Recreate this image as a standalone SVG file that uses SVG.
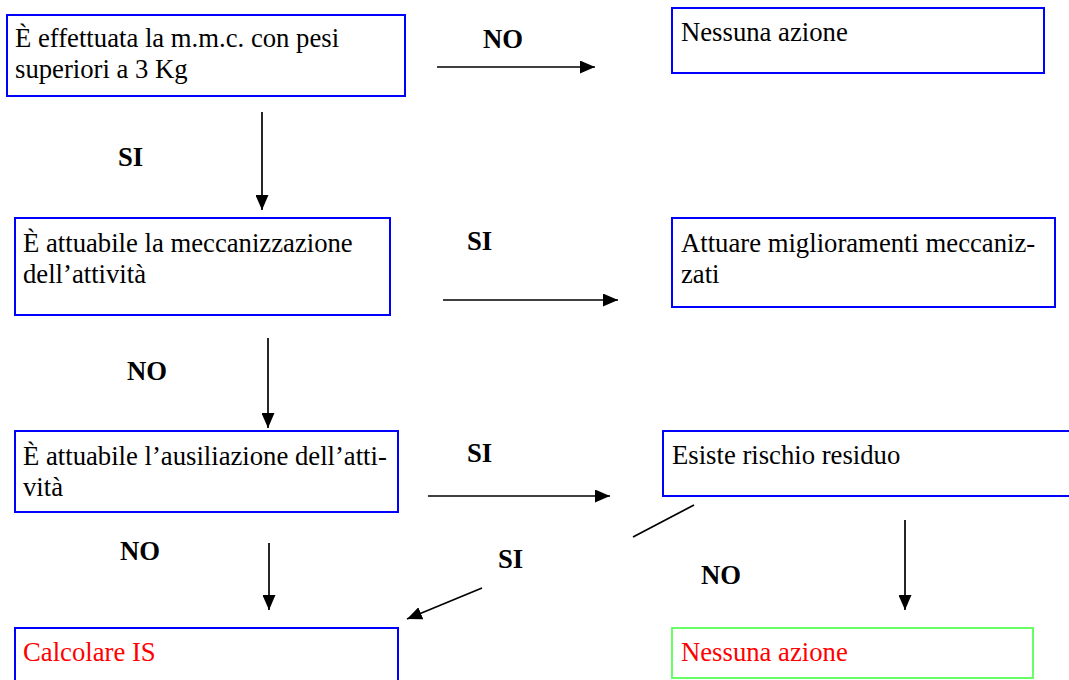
<svg xmlns="http://www.w3.org/2000/svg" width="1069" height="680" viewBox="0 0 1069 680">
<defs>
<marker id="ah" viewBox="0 0 15 13" refX="15" refY="6.5" markerWidth="15" markerHeight="13" markerUnits="userSpaceOnUse" orient="auto">
<path d="M0,0 L15,6.5 L0,13 Z" fill="#000"/>
</marker>
<style>
.box{fill:#fff;stroke:#0000ff;stroke-width:2}
.gbox{fill:#fff;stroke:#66ff66;stroke-width:2}
.t{font-family:"Liberation Serif","Times New Roman",serif;font-size:26.7px;fill:#000}
.r{fill:#ff0000}
.lbl{font-family:"Liberation Serif","Times New Roman",serif;font-size:26.7px;font-weight:bold;fill:#000}
.c{stroke:#000;stroke-width:1.7;fill:none}
.ca{stroke:#000;stroke-width:1.7;fill:none;marker-end:url(#ah)}
</style>
</defs>
<rect width="1069" height="680" fill="#fff"/>
<g id="connectors">
<line class="ca" x1="437" y1="67" x2="595" y2="67"/>
<line class="ca" x1="262" y1="112" x2="262" y2="210"/>
<line class="ca" x1="443" y1="300" x2="618" y2="300"/>
<line class="ca" x1="268" y1="338" x2="268" y2="428"/>
<line class="ca" x1="428" y1="496" x2="610" y2="496"/>
<line class="c" x1="694" y1="505" x2="633" y2="537"/>
<line class="ca" x1="482" y1="588" x2="407" y2="619"/>
<line class="ca" x1="269" y1="543" x2="269" y2="610"/>
<line class="ca" x1="905" y1="520" x2="905" y2="610"/>
</g>
<g id="labels">
<text class="lbl" x="483" y="48">NO</text>
<text class="lbl" x="118" y="166">SI</text>
<text class="lbl" x="467" y="250">SI</text>
<text class="lbl" x="127" y="380">NO</text>
<text class="lbl" x="467" y="462">SI</text>
<text class="lbl" x="120" y="560">NO</text>
<text class="lbl" x="498" y="568">SI</text>
<text class="lbl" x="701" y="584">NO</text>
</g>
<g id="n1">
<rect class="box" x="7" y="15" width="398" height="81"/>
<text class="t" x="15" y="47">È effettuata la m.m.c. con pesi</text>
<text class="t" x="15" y="78">superiori a 3 Kg</text>
</g>
<g id="n2">
<rect class="box" x="672" y="8" width="372" height="65"/>
<text class="t" x="681" y="41">Nessuna azione</text>
</g>
<g id="n3">
<rect class="box" x="15" y="218" width="375" height="97"/>
<text class="t" x="23" y="252">È attuabile la meccanizzazione</text>
<text class="t" x="23" y="283">dell’attività</text>
</g>
<g id="n4">
<rect class="box" x="672" y="218" width="383" height="89"/>
<text class="t" x="681" y="252">Attuare miglioramenti meccaniz-</text>
<text class="t" x="681" y="283">zati</text>
</g>
<g id="n5">
<rect class="box" x="15" y="431" width="383" height="81"/>
<text class="t" x="23" y="465">È attuabile l’ausiliazione dell’atti-</text>
<text class="t" x="23" y="496">vità</text>
</g>
<g id="n6">
<rect class="box" x="663" y="431" width="412" height="65"/>
<text class="t" x="672" y="464">Esiste rischio residuo</text>
</g>
<g id="n7">
<rect class="box" x="15" y="628" width="383" height="70"/>
<text class="t r" x="23" y="661">Calcolare IS</text>
</g>
<g id="n8">
<rect class="gbox" x="672" y="628" width="361" height="50"/>
<text class="t r" x="681" y="661">Nessuna azione</text>
</g>
</svg>
